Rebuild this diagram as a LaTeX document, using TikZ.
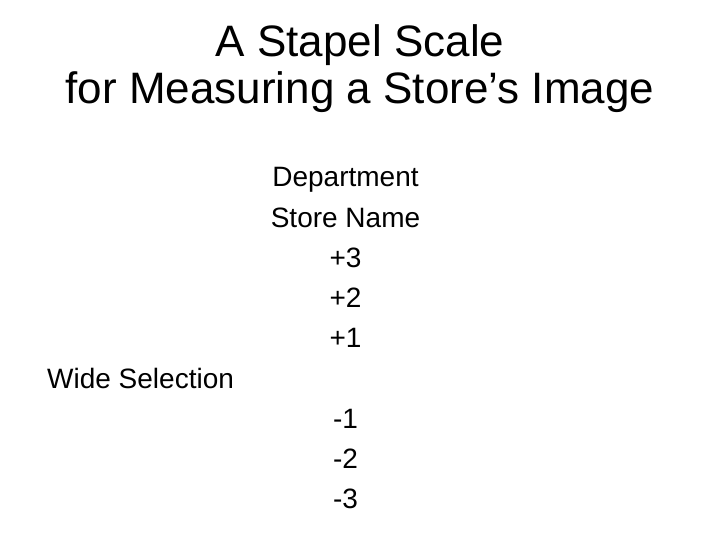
\documentclass[tikz,border=0pt]{standalone}
\usepackage{fontspec}
\setmainfont{Liberation Sans}
\begin{document}
\begin{tikzpicture}[x=1pt,y=-1pt,
  ttl/.style={inner sep=0pt,anchor=base,font=\fontsize{44}{48}\selectfont},
  item/.style={inner sep=0pt,anchor=base,font=\fontsize{28}{32}\selectfont}]
\useasboundingbox[fill=white] (0,0) rectangle (720,540);
\node[ttl] (t1) at (360,57) {A Stapel Scale};
\node[ttl] (t2) at (360,104) {for Measuring a Store’s Image};
\node[item] (d1) at (345.5,187) {Department};
\node[item] (d2) at (345.5,227) {Store Name};
\node[item] (p3) at (345.5,267.5) {+3};
\node[item] (p2) at (345.5,307) {+2};
\node[item] (p1) at (345.5,347) {+1};
\node[item,anchor=base west] (ws) at (47,388) {Wide Selection};
\node[item] (m1) at (345.5,428) {-1};
\node[item] (m2) at (345.5,468) {-2};
\node[item] (m3) at (345.5,508) {-3};
\end{tikzpicture}
\end{document}
